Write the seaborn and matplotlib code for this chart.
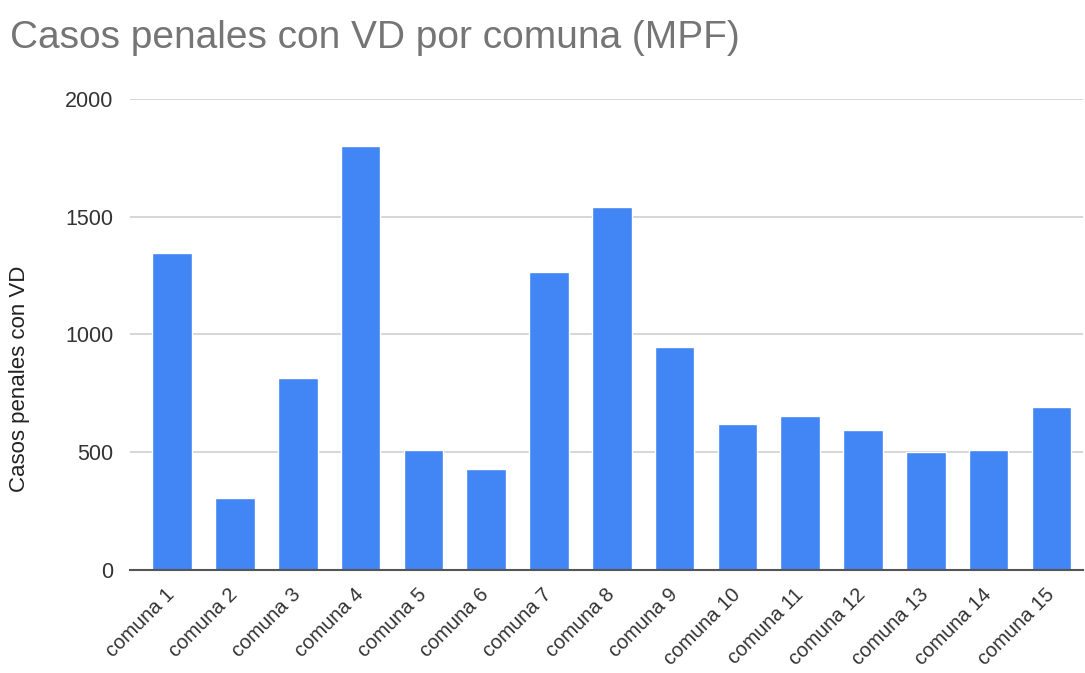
import matplotlib
matplotlib.use("Agg")
import matplotlib.pyplot as plt
import matplotlib.transforms as mtransforms
import seaborn as sns
import pandas as pd

categories = [f"comuna {i}" for i in range(1, 16)]
values = [1345, 306, 815, 1802, 510, 429, 1264, 1542, 946, 619, 652, 596, 501, 510, 692]
yticks = [0, 500, 1000, 1500, 2000]

sns.set_theme(style="white")
plt.rcParams['font.family'] = ['Liberation Sans', 'DejaVu Sans']

df = pd.DataFrame({"comuna": categories, "casos": values})

fig = plt.figure(figsize=(10.85, 6.73), dpi=100)
ax = fig.add_axes([0.12, 0.153, 0.878, 0.700])

sns.barplot(data=df, x="comuna", y="casos", color="#4285F4", saturation=1,
            width=0.63, ax=ax, zorder=3)

ax.set_ylim(0, 2000)
ax.set_yticks(yticks)
ax.set_yticklabels([str(t) for t in yticks])
ax.set_xlim(-0.67, 14.5)
ax.yaxis.grid(True, color="#d0d0d0", linewidth=1.2, zorder=0)
ax.set_axisbelow(True)
for s in ["top", "right", "left"]:
    ax.spines[s].set_visible(False)
ax.spines["bottom"].set_color("#555555")
ax.spines["bottom"].set_linewidth(1.5)
ax.spines["bottom"].set_zorder(4)

ax.tick_params(axis="y", length=0, pad=12, labelsize=15.5, labelcolor="#333333")
ax.tick_params(axis="x", length=0, pad=11, labelsize=14.5, labelcolor="#333333")
offset = mtransforms.ScaledTranslation(-0.07, 0, fig.dpi_scale_trans)
for lbl in ax.get_xticklabels():
    lbl.set_rotation(45)
    lbl.set_ha("right")
    lbl.set_rotation_mode("anchor")
    lbl.set_transform(lbl.get_transform() + offset)

ax.set_xlabel("")
ax.set_ylabel("Casos penales con VD", fontsize=16, color="#222222")
ax.yaxis.set_label_coords(-0.105, 0.405)

fig.text(0.009, 0.943, "Casos penales con VD por comuna (MPF)", fontsize=28,
         color="#757575", ha="left", va="center")

fig.savefig("out.png", dpi=100)
